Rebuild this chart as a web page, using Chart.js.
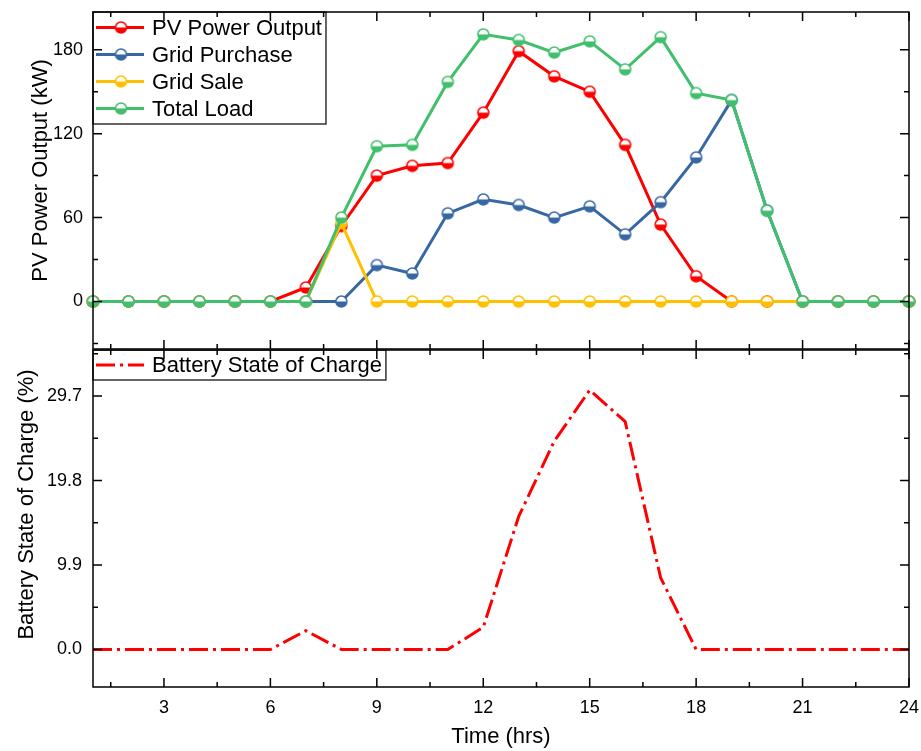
<!DOCTYPE html>
<html>
<head>
<meta charset="utf-8">
<script src="https://cdn.jsdelivr.net/npm/chart.js@4.4.1/dist/chart.umd.min.js"></script>
<style>
    body { margin: 0; background: #fff; }
    #wrap { position: relative; width: 921px; height: 751px; }
    #topChart { position: absolute; left: 0; top: 0; }
    #bottomChart { position: absolute; left: 0; top: 340px; }
</style>
</head>
<body>
<div id="wrap">
    <canvas id="topChart" width="921" height="361" style="width:921px;height:361px"></canvas>
    <canvas id="bottomChart" width="921" height="411" style="width:921px;height:411px"></canvas>
</div>
<script>
// Hourly values
var hours = [1,2,3,4,5,6,7,8,9,10,11,12,13,14,15,16,17,18,19,20,21,22,23,24];
var pvOutput     = [0,0,0,0,0,0,10,54,90,97,99,135,179,161,150,112,55,18,0,0,0,0,0,0];
var gridPurchase = [0,0,0,0,0,0,0,0,26,20,63,73,69,60,68,48,71,103,144,65,0,0,0,0];
var gridSale     = [0,0,0,0,0,0,0,56,0,0,0,0,0,0,0,0,0,0,0,0,0,0,0,0];
var totalLoad    = [0,0,0,0,0,0,0,60,111,112,157,191,187,178,186,166,189,149,144,65,0,0,0,0];
var batterySoc   = [0,0,0,0,0,0,2.2,0,0,0,0,2.6,15.6,24.4,30.4,26.7,8.4,0,0,0,0,0,0,0];

var xTicks = [3,6,9,12,15,18,21,24];
var powerTicks = [0,60,120,180];
var socTicks = [0,9.9,19.8,29.7];

var FONT = "'Liberation Sans', Arial, sans-serif";
Chart.defaults.font.family = FONT;
Chart.defaults.color = '#000';

function points(arr) {
    return hours.map(function(h, i) { return {x: h, y: arr[i]}; });
}

// half filled circle marker (white top, coloured bottom)
function halfDot(color) {
    var c = document.createElement('canvas');
    c.width = 15; c.height = 15;
    var g = c.getContext('2d');
    g.beginPath(); g.arc(7.5, 7.5, 5.5, 0, Math.PI * 2); g.fillStyle = '#fff'; g.fill();
    g.beginPath(); g.arc(7.5, 7.5, 5.5, 0, Math.PI); g.fillStyle = color; g.fill();
    g.beginPath(); g.arc(7.5, 7.5, 5.5, 0, Math.PI * 2);
    g.lineWidth = 1.5; g.strokeStyle = color; g.stroke();
    return c;
}

var RED = '#ff0000', BLUE = '#3868a3', YELLOW = '#ffc000', GREEN = '#41bf6d';

function setTicks(values) {
    return function(scale) {
        scale.ticks = values.map(function(v) { return {value: v}; });
    };
}

// frame, inward ticks, rotated y title and boxed legend
var panelDecor = {
    id: 'panelDecor',
    afterDatasetsDraw: function(chart, args, o) {
        var ctx = chart.ctx, a = chart.chartArea;
        ctx.save();
        ctx.font = '22px ' + FONT;
        var textX = a.left + 59;
        var maxW = 0;
        o.legend.forEach(function(it) { maxW = Math.max(maxW, ctx.measureText(it.label).width); });
        var boxH = o.legend.length * o.rowStep + 4;
        ctx.fillStyle = '#fff';
        ctx.fillRect(a.left, a.top, textX + maxW + 4 - a.left, boxH);
        ctx.strokeStyle = '#333';
        ctx.lineWidth = 1.5;
        ctx.strokeRect(a.left, a.top, textX + maxW + 4 - a.left, boxH);
        o.legend.forEach(function(it, i) {
            var y = a.top + o.rowStep / 2 + 2 + i * o.rowStep;
            ctx.beginPath();
            ctx.setLineDash(it.dash || []);
            ctx.strokeStyle = it.color;
            ctx.lineWidth = 3;
            ctx.moveTo(a.left + 3, y);
            ctx.lineTo(a.left + 51, y);
            ctx.stroke();
            ctx.setLineDash([]);
            if (it.marker) ctx.drawImage(it.marker, a.left + 28 - 7.5, y - 7.5);
            ctx.fillStyle = '#000';
            ctx.textBaseline = 'middle';
            ctx.fillText(it.label, textX, y + 1);
        });
        ctx.restore();
    },
    afterDraw: function(chart, args, o) {
        var ctx = chart.ctx, a = chart.chartArea;
        var xs = chart.scales.x, ys = chart.scales.y;
        ctx.save();
        ctx.strokeStyle = '#000';
        ctx.lineWidth = 1.5;
        ctx.strokeRect(a.left, a.top, a.right - a.left, a.bottom - a.top);
        ctx.beginPath();
        xTicks.forEach(function(v) {
            [v, v - 1.5].forEach(function(t, k) {
                var p = xs.getPixelForValue(t), len = k ? 5 : 9;
                ctx.moveTo(p, a.top); ctx.lineTo(p, a.top + len);
                ctx.moveTo(p, a.bottom); ctx.lineTo(p, a.bottom - len);
            });
        });
        o.yMajor.forEach(function(v) {
            [v, v + o.yMinorStep, v - o.yMinorStep].forEach(function(t, k) {
                if (t <= ys.min || t >= ys.max) return;
                var p = ys.getPixelForValue(t), len = k ? 5 : 9;
                ctx.moveTo(a.left, p); ctx.lineTo(a.left + len, p);
                ctx.moveTo(a.right, p); ctx.lineTo(a.right - len, p);
            });
        });
        ctx.stroke();
        // y title
        ctx.translate(o.titleX, (a.top + a.bottom) / 2 - o.titleShift);
        ctx.rotate(-Math.PI / 2);
        ctx.font = '22px ' + FONT;
        ctx.fillStyle = '#000';
        ctx.textAlign = 'center';
        ctx.textBaseline = 'middle';
        ctx.fillText(o.title, 0, 0);
        ctx.restore();
    }
};

function xScale(showLabels, height) {
    return {
        type: 'linear', min: 1, max: 24,
        afterBuildTicks: setTicks(xTicks),
        afterFit: function(s) { s.height = height; s.paddingLeft = 0; s.paddingRight = 0; },
        grid: {display: false, drawTicks: false}, border: {display: false},
        ticks: {display: showLabels, padding: 10, font: {size: 18}},
        title: {display: showLabels, text: 'Time (hrs)', font: {size: 22}, padding: {top: 0, bottom: 1}}
    };
}

function yFit(s) {
    s.width = 93;
    s.paddingTop = 0;
    s.paddingBottom = 0;
}

function lineSet(label, arr, color, order) {
    return {
        label: label, data: points(arr), order: order,
        borderColor: color, backgroundColor: color, borderWidth: 3,
        pointStyle: halfDot(color), pointRadius: 6, clip: false
    };
}

var topSets = [
    lineSet('PV Power Output', pvOutput, RED, 3),
    lineSet('Grid Purchase', gridPurchase, BLUE, 2),
    lineSet('Grid Sale', gridSale, YELLOW, 1),
    lineSet('Total Load', totalLoad, GREEN, 0)
];

new Chart(document.getElementById('topChart'), {
    type: 'line',
    data: {datasets: topSets},
    options: {
        responsive: false, animation: false,
        layout: {padding: {top: 12, right: 12, left: 0, bottom: 0}},
        scales: {
            x: xScale(false, 12),
            y: {
                min: -34, max: 207,
                afterBuildTicks: setTicks(powerTicks),
                afterFit: yFit,
                grid: {display: false, drawTicks: false}, border: {display: false},
                ticks: {padding: 10, font: {size: 18}}
            }
        },
        plugins: {
            legend: {display: false}, tooltip: {enabled: false},
            panelDecor: {
                yMajor: powerTicks, yMinorStep: 30,
                title: 'PV Power Output (kW)', titleX: 41, titleShift: 10,
                rowStep: 27,
                legend: topSets.map(function(d) {
                    return {label: d.label, color: d.borderColor, marker: d.pointStyle};
                })
            }
        }
    },
    plugins: [panelDecor]
});

new Chart(document.getElementById('bottomChart'), {
    type: 'line',
    data: {
        datasets: [{
            label: 'Battery State of Charge', data: points(batterySoc),
            borderColor: RED, borderWidth: 3, borderDash: [19, 5, 3, 5],
            pointRadius: 0, clip: false
        }]
    },
    options: {
        responsive: false, animation: false,
        layout: {padding: {top: 10, right: 12, left: 0, bottom: 0}},
        scales: {
            x: xScale(true, 64),
            y: {
                min: -4.4, max: 35.1,
                afterBuildTicks: setTicks(socTicks),
                afterFit: yFit,
                grid: {display: false, drawTicks: false}, border: {display: false},
                ticks: {padding: 11, font: {size: 18}, callback: function(v) { return v.toFixed(1); }}
            }
        },
        plugins: {
            legend: {display: false}, tooltip: {enabled: false},
            panelDecor: {
                yMajor: socTicks, yMinorStep: 4.95,
                title: 'Battery State of Charge (%)', titleX: 27, titleShift: 14,
                rowStep: 26,
                legend: [{label: 'Battery State of Charge', color: RED, dash: [19, 5, 3, 5]}]
            }
        }
    },
    plugins: [panelDecor]
});
</script>
</body>
</html>
